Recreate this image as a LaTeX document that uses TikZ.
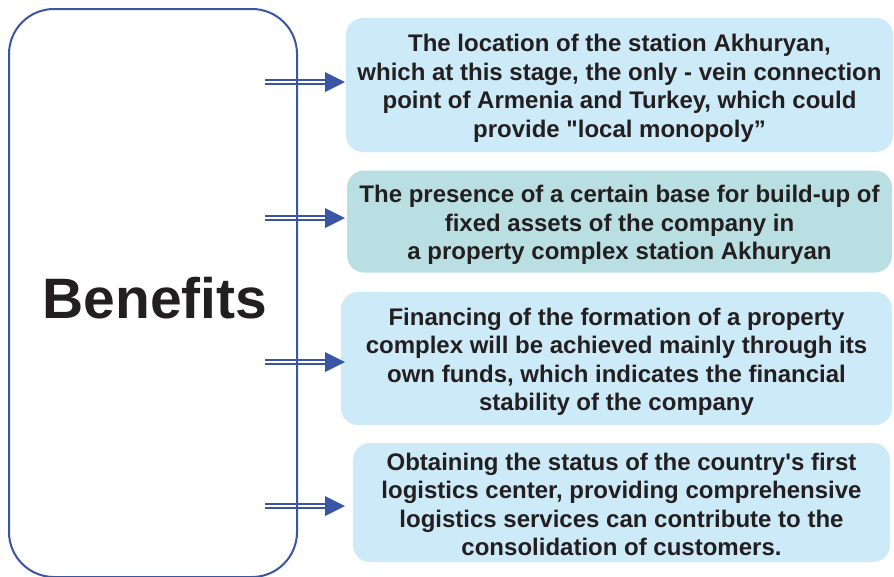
\documentclass[tikz,border=0pt]{standalone}
\usepackage{fontspec}
\setmainfont{Liberation Sans}
\newfontfamily\plainq{Liberation Sans}[Ligatures=TeXOff]
\newcommand{\sq}{{\plainq\bfseries\symbol{39}}}
\newcommand{\dq}{{\plainq\bfseries\symbol{34}}}
\definecolor{lineblue}{HTML}{3A55A4}
\definecolor{boxblue}{HTML}{CDEAF9}
\definecolor{boxteal}{HTML}{B9DFE3}
\definecolor{txt}{HTML}{231F20}
\begin{document}
\begin{tikzpicture}[x=1pt,y=-1pt,
  infobox/.style={rounded corners=17pt, inner sep=0pt},
  infotext/.style={inner sep=0pt, align=center, yshift=-3.5pt,
    text=txt, font=\bfseries\fontsize{24}{28.5}\selectfont},
  shaft/.style={draw=lineblue, double=white, double distance=1.8pt, line width=1.8pt},
  tiphead/.style={fill=lineblue},
  bigbox/.style={draw=lineblue, line width=2pt, rounded corners=45pt, inner sep=0pt}]
\useasboundingbox (0,0) rectangle (894,576);
\clip (0,0) rectangle (894,576);
% boxes
\node[infobox, fill=boxblue, minimum width=547pt, minimum height=134pt] (b1) at (619.5,85) {};
\node[infotext] (b1t) at (b1.center)
  {The location of the station Akhuryan,\\which at this stage, the only - vein connection\\point of Armenia and Turkey, which could\\provide \dq local monopoly”};
\node[infobox, fill=boxteal, minimum width=545pt, minimum height=102pt] (b2) at (619.5,221.5) {};
\node[infotext] (b2t) at (b2.center)
  {The presence of a certain base for build-up of\\fixed assets of the company in\\a property complex station Akhuryan};
\node[infobox, fill=boxblue, minimum width=551pt, minimum height=133pt] (b3) at (616.5,358.5) {};
\node[infotext] (b3t) at (b3.center)
  {Financing of the formation of a property\\complex will be achieved mainly through its\\own funds, which indicates the financial\\stability of the company};
\node[infobox, fill=boxblue, minimum width=537pt, minimum height=119pt] (b4) at (621.5,502.5) {};
\node[infotext, yshift=1.5pt] (b4t) at (b4.center)
  {Obtaining the status of the country\sq s first\\logistics center, providing comprehensive\\logistics services can contribute to the\\consolidation of customers.};
% arrows
\foreach \i/\y in {1/82,2/218,3/362,4/506}{
  \coordinate (s\i) at (265,\y);
  \coordinate (t\i) at (345,\y);
  \draw[shaft] (s\i) -- ([xshift=-18pt]t\i);
  \fill[tiphead] (t\i) -- ++(-20,-10) -- ++(0,20) -- cycle;
}
% big box
\node[bigbox, minimum width=288pt, minimum height=568pt] (ben) at (153,293) {};
\node[anchor=base, text=txt, font=\bfseries\fontsize{57}{60}\selectfont] (bt) at (155,318) {Benefits};
\end{tikzpicture}
\end{document}
